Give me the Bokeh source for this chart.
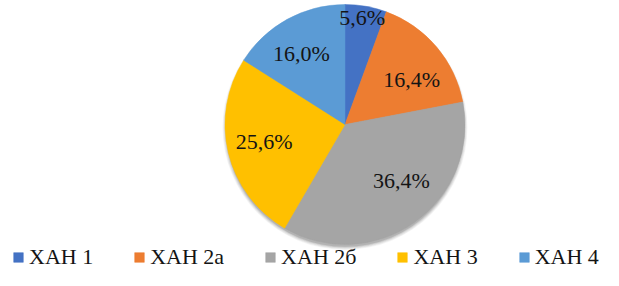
import math
from bokeh.plotting import figure
from bokeh.models import ColumnDataSource, Range1d, Legend, LegendItem
from bokeh.core.properties import value
from bokeh.embed import file_html
from bokeh.resources import INLINE

# ---- data ----
categories = ["ХАН 1", "ХАН 2а", "ХАН 2б", "ХАН 3", "ХАН 4"]
shares = [5.6, 16.4, 36.4, 25.6, 16.0]
labels = ["5,6%", "16,4%", "36,4%", "25,6%", "16,0%"]
colors = ["#4472C4", "#ED7D31", "#A5A5A5", "#FFC000", "#5B9BD5"]

# ---- layout constants ----
W, H = 603, 270
CX, CY, R = 344.5, 146.0, 120.0
label_r_frac = [0.905, 0.668, 0.664, 0.688, 0.695]
label_angle_shift = [1.0, -6.5, 9.7, -1.7, 2.7]  # degrees
FONT = "'Liberation Serif', 'Times New Roman', serif"

total = sum(shares)
starts, ends, lx, ly = [], [], [], []
cum = 0.0
for i, s in enumerate(shares):
    a0 = math.pi / 2 - 2 * math.pi * cum / total
    cum += s
    a1 = math.pi / 2 - 2 * math.pi * cum / total
    starts.append(a0)
    ends.append(a1)
    mid = (a0 + a1) / 2 + math.radians(label_angle_shift[i])
    lx.append(CX + R * label_r_frac[i] * math.cos(mid))
    ly.append(CY + R * label_r_frac[i] * math.sin(mid))

src = ColumnDataSource(dict(cat=categories, start=starts, end=ends, color=colors,
                            lbl=labels, lx=lx, ly=ly))

p = figure(width=W, height=H, output_backend="svg", toolbar_location=None,
           x_range=Range1d(0, W), y_range=Range1d(0, H),
           x_axis_location=None, y_axis_location=None, min_border=0)
p.grid.visible = False
p.outline_line_color = None
p.background_fill_color = "white"
p.border_fill_color = "white"

# soft shadow below the pie
for k, a in enumerate([0.04, 0.05, 0.06, 0.08, 0.10]):
    p.circle(x=CX, y=CY - 3, radius=R + 2.5 - k * 0.8, fill_color="#000000",
             fill_alpha=a, line_color=None)

wr = p.wedge(x=CX, y=CY, radius=R, start_angle="start", end_angle="end",
             direction="clock", fill_color="color", line_color="color",
             line_width=0.5, source=src)

p.text(x="lx", y="ly", text="lbl", source=src, text_align="center",
       text_baseline="middle", text_font=value(FONT), text_font_size="22px",
       text_color="#141414")

items = [LegendItem(label=c, renderers=[wr], index=i) for i, c in enumerate(categories)]
legend = Legend(items=items, orientation="horizontal", location=(12, 0),
                padding=0, margin=0, spacing=40, label_standoff=5,
                glyph_width=12, glyph_height=12, label_height=20,
                label_text_font=FONT, label_text_font_size="22px",
                label_text_color="#141414", border_line_color=None,
                background_fill_alpha=0)
p.add_layout(legend)

open("out.html", "w").write(file_html(p, INLINE))
